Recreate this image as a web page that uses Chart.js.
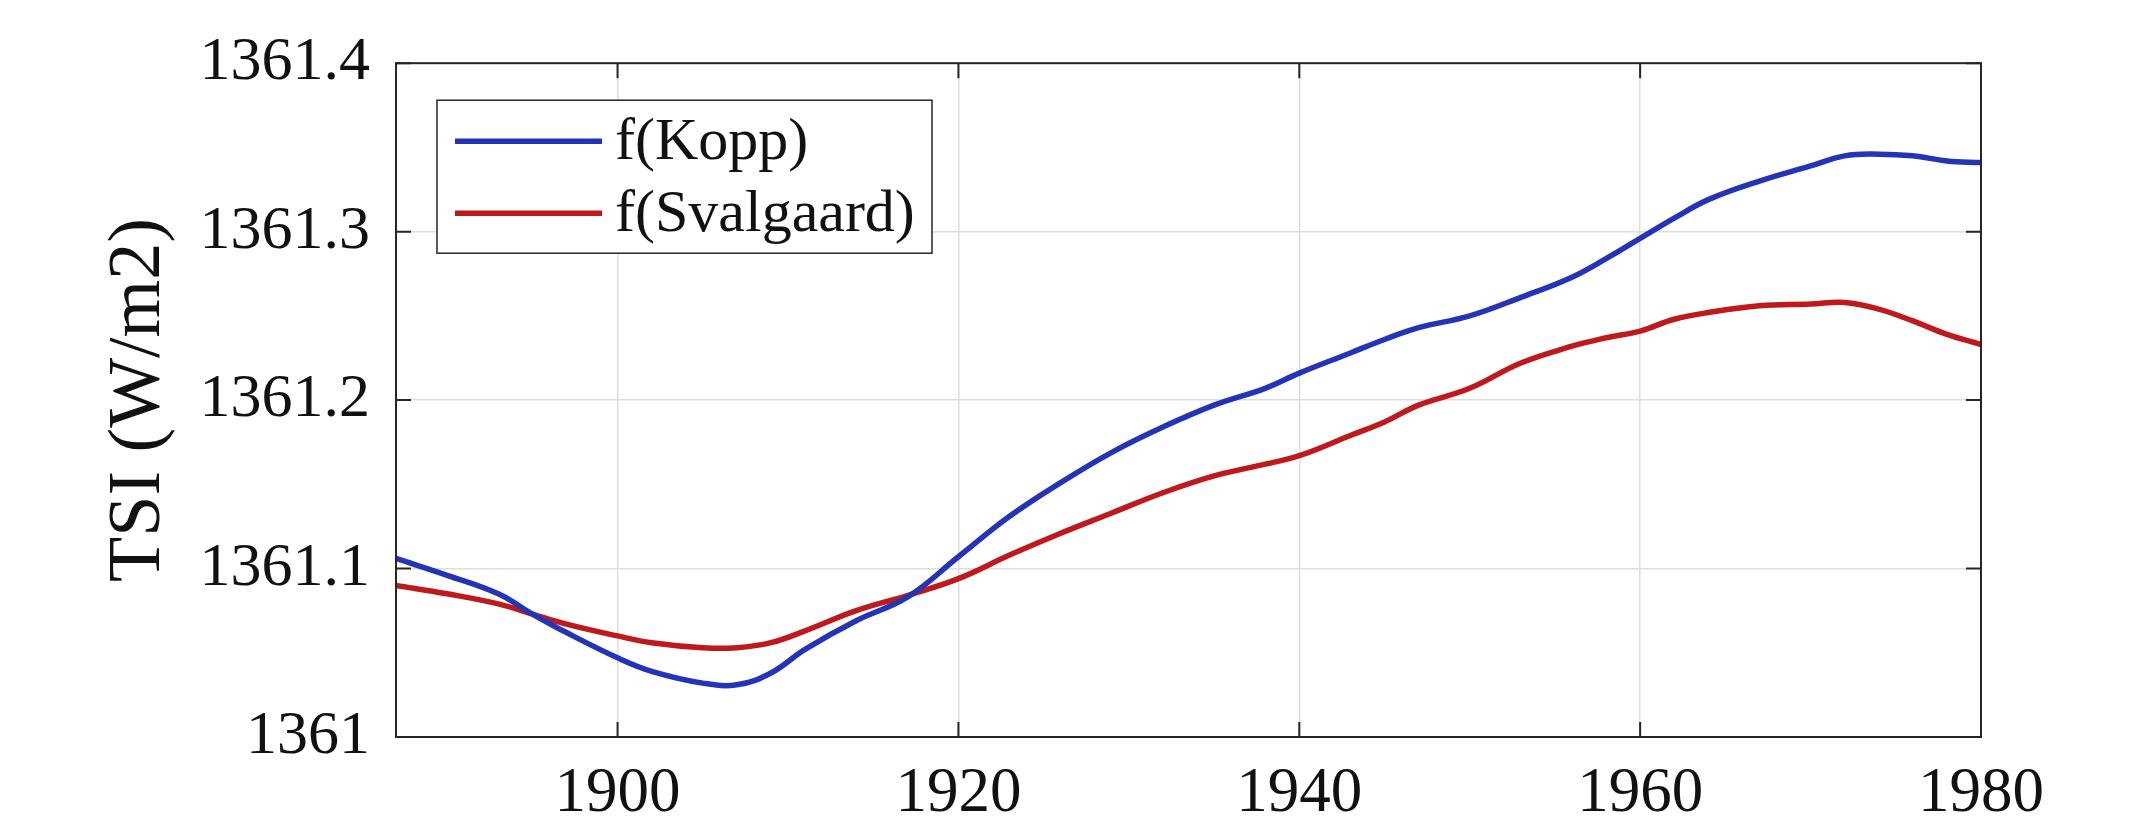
<!DOCTYPE html>
<html>
<head>
<meta charset="utf-8">
<title>TSI</title>
<script src="https://cdn.jsdelivr.net/npm/chart.js@4.4.1/dist/chart.umd.min.js"></script>
<style>
  html, body { margin: 0; padding: 0; background: #fff; }
  #wrap { width: 2139px; height: 837px; }
</style>
</head>
<body>
<div id="wrap"><canvas id="tsi"></canvas></div>
<script>
const years = [1887, 1890, 1893, 1895, 1897, 1900, 1902, 1905, 1907, 1909, 1911, 1914, 1917,
  1920, 1923, 1926, 1929, 1932, 1935, 1938, 1940, 1943, 1945, 1947, 1950, 1953, 1956, 1958,
  1960, 1962, 1964, 1967, 1970, 1972, 1974, 1976, 1978, 1980];

const kopp = [1361.106, 1361.096, 1361.085, 1361.073, 1361.062, 1361.047, 1361.039, 1361.032,
  1361.031, 1361.038, 1361.052, 1361.069, 1361.083, 1361.107, 1361.131, 1361.151, 1361.169,
  1361.184, 1361.197, 1361.207, 1361.216, 1361.228, 1361.236, 1361.243, 1361.250, 1361.261,
  1361.273, 1361.284, 1361.296, 1361.308, 1361.319, 1361.330, 1361.339, 1361.345, 1361.346,
  1361.345, 1361.342, 1361.341];

const svalgaard = [1361.090, 1361.085, 1361.079, 1361.073, 1361.067, 1361.060, 1361.056, 1361.053,
  1361.053, 1361.056, 1361.063, 1361.075, 1361.084, 1361.094, 1361.108, 1361.121, 1361.133,
  1361.145, 1361.155, 1361.162, 1361.167, 1361.179, 1361.187, 1361.197, 1361.207, 1361.222,
  1361.232, 1361.237, 1361.241, 1361.248, 1361.252, 1361.256, 1361.257, 1361.258, 1361.254,
  1361.247, 1361.239, 1361.233];

const xTicks = [1900, 1920, 1940, 1960, 1980];
const yTicks = [1361, 1361.1, 1361.2, 1361.3, 1361.4];

const FONT = "'Liberation Serif', 'Times New Roman', serif";
const BLUE = "#2434b8";
const RED = "#c0191c";

// MATLAB 스타일 박스 + 안쪽 눈금
const boxPlugin = {
  id: "box",
  afterDatasetsDraw(chart) {
    const { ctx, chartArea: a, scales } = chart;
    const tick = 15;
    ctx.save();
    ctx.strokeStyle = "#262626";
    ctx.lineWidth = 2;
    ctx.beginPath();
    xTicks.forEach((v) => {
      const x = scales.x.getPixelForValue(v);
      ctx.moveTo(x, a.bottom); ctx.lineTo(x, a.bottom - tick);
      ctx.moveTo(x, a.top); ctx.lineTo(x, a.top + tick);
    });
    yTicks.forEach((v) => {
      const y = scales.y.getPixelForValue(v);
      ctx.moveTo(a.left, y); ctx.lineTo(a.left + tick, y);
      ctx.moveTo(a.right, y); ctx.lineTo(a.right - tick, y);
    });
    ctx.stroke();
    ctx.strokeRect(a.left, a.top, a.right - a.left, a.bottom - a.top);
    ctx.restore();
  },
};

// 범례 (축 안쪽 왼쪽 위)
const legendPlugin = {
  id: "innerLegend",
  afterDraw(chart) {
    const { ctx, chartArea: a } = chart;
    const x0 = a.left + 41, y0 = a.top + 37, w = 495, h = 153;
    ctx.save();
    ctx.fillStyle = "#fff";
    ctx.fillRect(x0, y0, w, h);
    ctx.strokeStyle = "#262626";
    ctx.lineWidth = 1.5;
    ctx.strokeRect(x0, y0, w, h);
    ctx.font = "60px " + FONT;
    ctx.textBaseline = "middle";
    chart.data.datasets.forEach((ds, i) => {
      const y = y0 + 41 + i * 72;
      ctx.strokeStyle = ds.borderColor;
      ctx.lineWidth = 5.5;
      ctx.beginPath();
      ctx.moveTo(x0 + 18, y);
      ctx.lineTo(x0 + 165, y);
      ctx.stroke();
      ctx.fillStyle = "#111";
      ctx.fillText(ds.label, x0 + 178, y + 2);
    });
    ctx.restore();
  },
};

const ctx = document.getElementById("tsi").getContext("2d");

new Chart(ctx, {
  type: "line",
  data: {
    labels: years,
    datasets: [
      {
        label: "f(Kopp)",
        data: years.map((yr, i) => ({ x: yr, y: kopp[i] })),
        borderColor: BLUE,
        borderWidth: 5.5,
        pointRadius: 0,
        tension: 0.4,
        fill: false,
      },
      {
        label: "f(Svalgaard)",
        data: years.map((yr, i) => ({ x: yr, y: svalgaard[i] })),
        borderColor: RED,
        borderWidth: 5.5,
        pointRadius: 0,
        tension: 0.4,
        fill: false,
      },
    ],
  },
  options: {
    responsive: true,
    maintainAspectRatio: false,
    animation: false,
    layout: { padding: { left: 0, right: 158, top: 57, bottom: 0 } },
    plugins: {
      legend: { display: false },
      tooltip: { enabled: false },
    },
    scales: {
      x: {
        type: "linear",
        min: 1887,
        max: 1980,
        afterBuildTicks: (s) => { s.ticks = xTicks.map((v) => ({ value: v })); },
        afterFit: (s) => { s.height = 100; },
        grid: { color: "#dedede", lineWidth: 1.5, drawTicks: false },
        border: { display: false },
        ticks: {
          padding: 20,
          color: "#111",
          font: { family: FONT, size: 63 },
          maxRotation: 0,
          callback: (v) => String(v),
        },
      },
      y: {
        min: 1361,
        max: 1361.4,
        afterBuildTicks: (s) => { s.ticks = yTicks.map((v) => ({ value: v })); },
        afterFit: (s) => { s.width = 396; },
        grid: { color: "#dedede", lineWidth: 1.5, drawTicks: false },
        border: { display: false },
        ticks: {
          padding: 26,
          color: "#111",
          font: { family: FONT, size: 62 },
          callback: (v) => (Math.abs(v - Math.round(v)) < 1e-9 ? String(Math.round(v)) : v.toFixed(1)),
        },
        title: {
          display: true,
          text: "TSI (W/m2)",
          color: "#111",
          font: { family: FONT, size: 74 },
          padding: { top: 95, bottom: 0 },
        },
      },
    },
  },
  plugins: [boxPlugin, legendPlugin],
});
</script>
</body>
</html>
